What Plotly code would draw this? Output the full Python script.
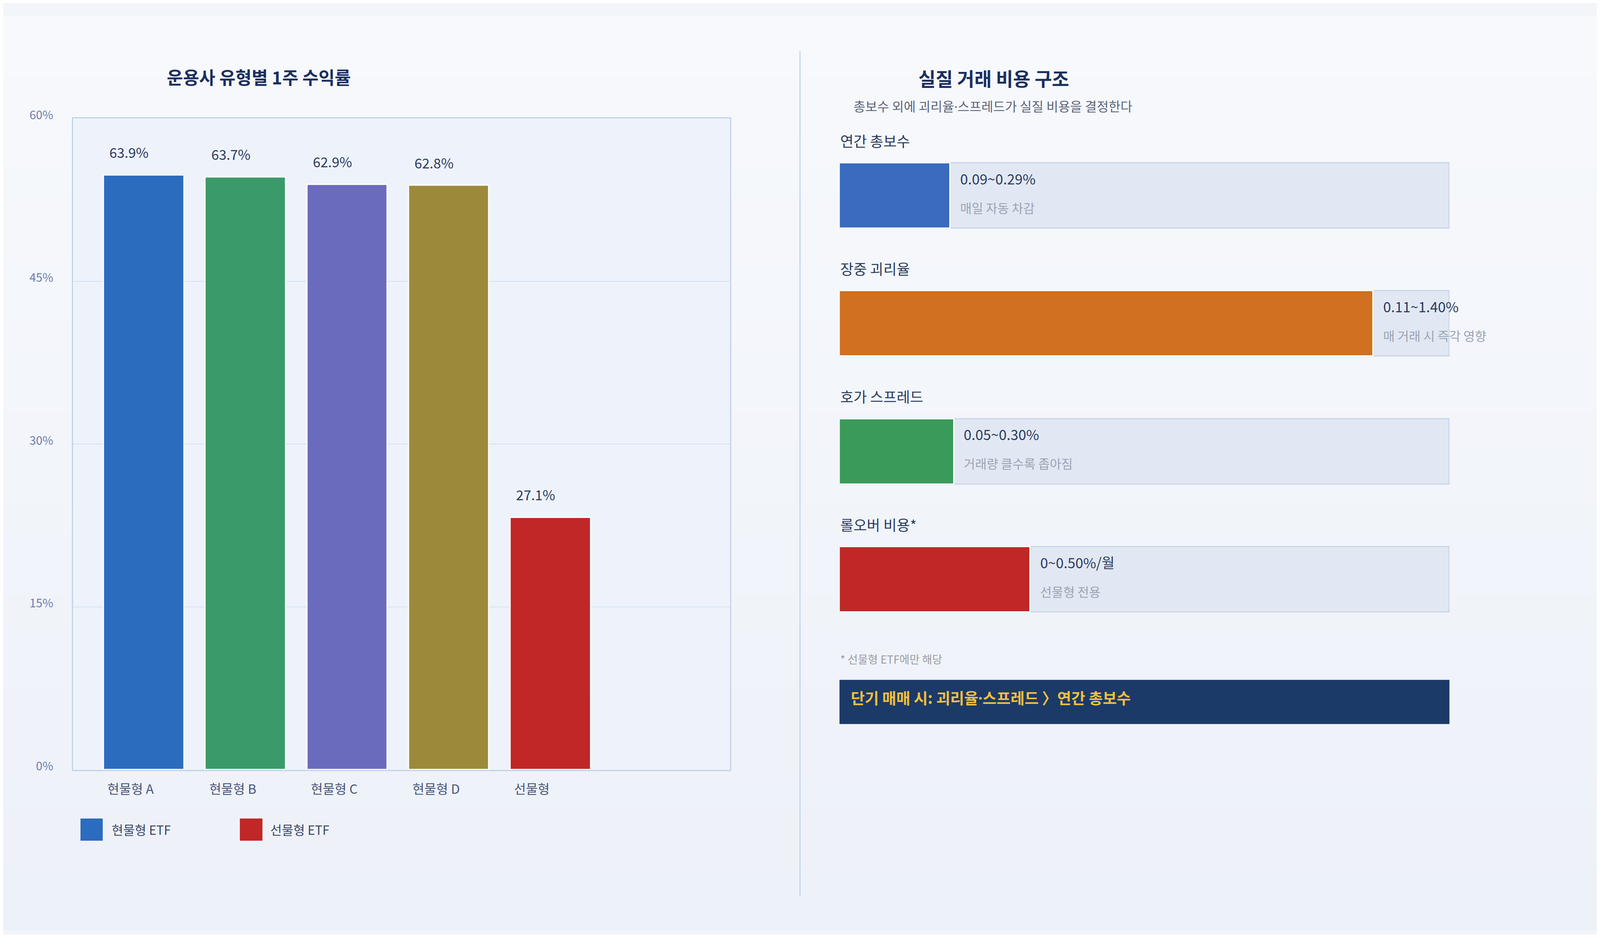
import plotly.graph_objects as go

# ---------- data ----------
categories = ["현물형 A", "현물형 B", "현물형 C", "현물형 D", "선물형"]
returns_pct = [63.9, 63.7, 62.9, 62.8, 27.1]
bar_colors = ["#2b6cbf", "#3a9a6a", "#6b6bbd", "#9c8a3a", "#c02727"]
y_tickvals = [0, 17.5, 35, 52.5, 70]
y_ticktext = ["0%", "15%", "30%", "45%", "60%"]

legend_names = ["현물형 ETF", "선물형 ETF"]
legend_colors = ["#2b6cbf", "#c02727"]

cost_items = ["연간 총보수", "장중 괴리율", "호가 스프레드", "롤오버 비용*"]
cost_high = [0.29, 1.40, 0.30, 0.50]
cost_text = ["0.09~0.29%", "0.11~1.40%", "0.05~0.30%", "0~0.50%/월"]
cost_notes = ["매일 자동 차감", "매 거래 시 즉각 영향", "거래량 클수록 좁아짐", "선물형 전용"]
cost_colors = ["#3a6bbf", "#d07020", "#3a9a5a", "#c02727"]
cost_scale_max = 1.6

FONT = "Noto Sans CJK KR"
# narrow middle dot (the CJK face draws a full-width one)
DOT = '<span style="font-family:Noto Sans">·</span>'

# ---------- layout (reference frame 4800 x 2400, as fractions) ----------
RW, RH = 4800, 2400
L_X0, L_X1, L_Y0, L_Y1 = 211, 2189, 269, 1978
R_X0, R_X1 = 2519, 4356


def fx(v):
    return v / RW


def fy(v):
    return 1 - v / RH


fig = go.Figure()

# left: returns bars
idx = list(range(len(categories)))
BAR_W = 0.79
fig.add_trace(go.Bar(
    x=idx, y=returns_pct, width=BAR_W,
    marker=dict(color=bar_colors, line=dict(color="white", width=3)),
    showlegend=False, hoverinfo="skip",
    xaxis="x", yaxis="y",
))

# right: cost tracks + bars
rows = list(range(len(cost_items)))
ROW_W = 0.51
fig.add_trace(go.Bar(
    x=[cost_scale_max] * len(rows), y=rows, orientation="h", width=ROW_W,
    marker=dict(color="#e1e8f3", line=dict(color="#c8d5ea", width=3)),
    showlegend=False, hoverinfo="skip", xaxis="x2", yaxis="y2",
))
fig.add_trace(go.Bar(
    x=cost_high, y=rows, orientation="h", width=ROW_W,
    marker=dict(color=cost_colors, line=dict(color="white", width=3)),
    showlegend=False, hoverinfo="skip", xaxis="x2", yaxis="y2",
))

shapes = []
# soft vertical background gradient
top_c = (247, 249, 252)
bot_c = (237, 241, 248)
n_bands = 30
for i in range(n_bands):
    t = i / (n_bands - 1)
    c = tuple(round(top_c[k] + (bot_c[k] - top_c[k]) * t) for k in range(3))
    shapes.append(dict(type="rect", xref="paper", yref="paper", layer="below",
                       x0=0, x1=1, y0=1 - (i + 1) / n_bands, y1=1 - i / n_bands,
                       fillcolor="rgb(%d,%d,%d)" % c, line=dict(width=0)))
# left plot area background
shapes.append(dict(type="rect", xref="paper", yref="paper", layer="below",
                   x0=fx(L_X0), x1=fx(L_X1), y0=fy(L_Y1), y1=fy(L_Y0),
                   fillcolor="#eef3fb", line=dict(width=0)))
# divider
shapes.append(dict(type="line", xref="paper", yref="paper",
                   x0=0.5, x1=0.5, y0=fy(2311), y1=fy(92),
                   line=dict(color="#c5d5ea", width=3)))
# legend squares
leg_x = [(233, 300), (713, 781)]
for (a, b), col in zip(leg_x, legend_colors):
    shapes.append(dict(type="rect", xref="paper", yref="paper",
                       x0=fx(a), x1=fx(b), y0=fy(2164), y1=fy(2106),
                       fillcolor=col, line=dict(width=0)))
# banner
shapes.append(dict(type="rect", xref="paper", yref="paper",
                   x0=fx(R_X0), x1=fx(R_X1), y0=fy(1858), y1=fy(1742),
                   fillcolor="#1b3a68", line=dict(width=0)))

ann = []
# titles
ann.append(dict(text="<b>운용사 유형별 1주 수익률</b>", xref="paper", yref="paper",
                x=fx(770), y=fy(159), showarrow=False, xanchor="center", yanchor="middle",
                font=dict(size=45, color="#1b2f5e", family=FONT)))
ann.append(dict(text="<b>실질 거래 비용 구조</b>", xref="paper", yref="paper",
                x=fx(2984), y=fy(162), showarrow=False, xanchor="center", yanchor="middle",
                font=dict(size=48, color="#1b2f5e", family=FONT)))
ann.append(dict(text=f"총보수 외에 괴리율{DOT}스프레드가 실질 비용을 결정한다", xref="paper", yref="paper",
                x=fx(2981), y=fy(236), showarrow=False, xanchor="center", yanchor="middle",
                font=dict(size=33, color="#5b6478", family=FONT)))

# bar value labels + category labels (left aligned to the bar edge)
for i, (cat, v) in enumerate(zip(categories, returns_pct)):
    ann.append(dict(text=f"{v:.1f}%", x=i - BAR_W / 2 + 0.05, y=v + 2.5,
                    xref="x", yref="y", showarrow=False,
                    xanchor="left", yanchor="middle",
                    font=dict(size=35, color="#2b3a5e", family=FONT)))
    ann.append(dict(text=cat, x=i - BAR_W / 2 + 0.03, y=fy(L_Y1 + 49),
                    xref="x", yref="paper", showarrow=False,
                    xanchor="left", yanchor="middle",
                    font=dict(size=33, color="#4a5578", family=FONT)))

# legend text
for xx, name in zip([325, 802], legend_names):
    ann.append(dict(text=name, xref="paper", yref="paper", x=fx(xx), y=fy(2134),
                    showarrow=False, xanchor="left", yanchor="middle",
                    font=dict(size=32, color="#3a4565", family=FONT)))

# right side labels
for r, (item, hi, txt, note) in enumerate(zip(cost_items, cost_high, cost_text, cost_notes)):
    ann.append(dict(text=item, x=0, y=r - 0.43, xref="x2", yref="y2", showarrow=False,
                    xanchor="left", yanchor="middle",
                    font=dict(size=37, color="#2a3a5c", family=FONT)))
    ann.append(dict(text=txt, x=hi + 0.024, y=r - 0.137, xref="x2", yref="y2", showarrow=False,
                    xanchor="left", yanchor="middle",
                    font=dict(size=36, color="#2b3a5e", family=FONT)))
    ann.append(dict(text=note, x=hi + 0.024, y=r + 0.092, xref="x2", yref="y2", showarrow=False,
                    xanchor="left", yanchor="middle",
                    font=dict(size=32, color="#9aa4b2", family=FONT)))

ann.append(dict(text="* 선물형 ETF에만 해당", xref="paper", yref="paper",
                x=fx(R_X0), y=fy(1687), showarrow=False, xanchor="left", yanchor="middle",
                font=dict(size=28, color="#9a9ca3", family=FONT)))
ann.append(dict(text=f"<b>단기 매매 시: 괴리율{DOT}스프레드 〉연간 총보수</b>", xref="paper", yref="paper",
                x=fx(2550), y=fy(1788), showarrow=False, xanchor="left", yanchor="middle",
                font=dict(size=39, color="#f2c03c", family=FONT)))

# row geometry of the right panel in reference px
row_unit = 335.7
row0 = 471.4

fig.update_layout(
    autosize=True,
    margin=dict(l=0, r=0, t=0, b=0),
    paper_bgcolor="#f2f5fa",
    plot_bgcolor="rgba(0,0,0,0)",
    font=dict(family=FONT),
    barmode="overlay",
    bargap=0,
    shapes=shapes,
    annotations=ann,
    xaxis=dict(domain=[fx(L_X0), fx(L_X1)], range=[-0.695, 5.765],
               showticklabels=False, showgrid=False, zeroline=False, ticks="",
               showline=True, mirror=True, linecolor="#c3d3e8", linewidth=3,
               fixedrange=True),
    yaxis=dict(domain=[fy(L_Y1), fy(L_Y0)], range=[0, 70],
               tickvals=y_tickvals, ticktext=y_ticktext,
               tickfont=dict(size=30, color="#6e7bb0", family=FONT),
               ticklabelstandoff=42, ticklabelshift=-9,
               showgrid=True, gridcolor="#d5e0f0", gridwidth=2, zeroline=False,
               showline=True, mirror=True, linecolor="#c3d3e8", linewidth=3,
               fixedrange=True),
    xaxis2=dict(domain=[fx(R_X0), fx(R_X1)], range=[0, cost_scale_max],
                anchor="y2", visible=False, fixedrange=True),
    yaxis2=dict(domain=[0, 1], range=[(RH - row0) / row_unit, -row0 / row_unit],
                anchor="x2", visible=False, fixedrange=True),
)

fig.write_html("out.html")
